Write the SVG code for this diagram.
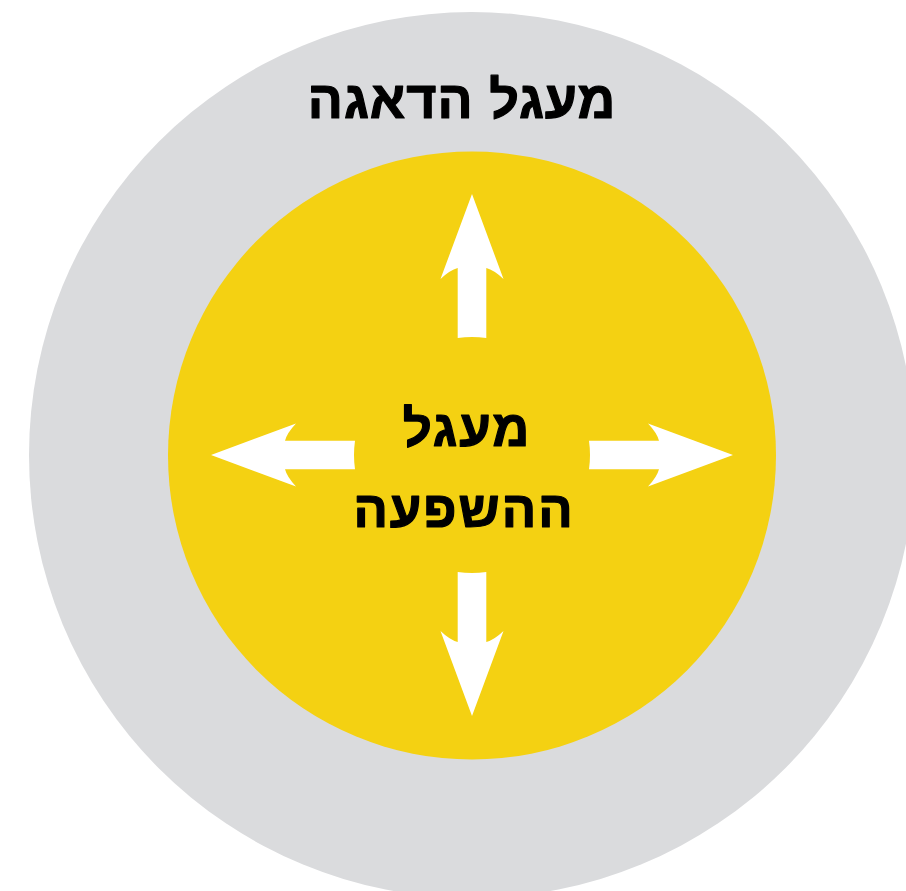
<svg xmlns="http://www.w3.org/2000/svg" width="906" height="891" viewBox="0 0 906 891">
  <style>
    .label { font-family: "Liberation Sans", "DejaVu Sans", sans-serif; font-weight: bold; fill: #000; stroke: #000; stroke-width: 1.2; stroke-linejoin: round; text-anchor: middle; direction: rtl; }
    .arrow { fill: #ffffff; }
  </style>
  <defs>
    <!-- Upward arrow centred on the origin; rotated copies give the other directions -->
    <path id="arrowUp" d="M0,-261 L31.5,-176 Q22,-185 14.3,-187 L14.3,-117 Q0,-119 -14.3,-117 L-14.3,-187 Q-22,-185 -31.5,-176 Z"/>
  </defs>
  <rect width="906" height="891" fill="#ffffff"/>

  <g id="concern-circle">
    <circle cx="472" cy="455" r="443" fill="#dadbdd"/>
    <text class="label" x="462" y="118" font-size="52" letter-spacing="1">מעגל הדאגה</text>
  </g>

  <g id="influence-circle">
    <circle cx="472" cy="455.5" r="304" fill="#f4d112"/>
    <text class="label" x="467" y="446" font-size="51" letter-spacing="2">מעגל</text>
    <text class="label" x="464" y="527" font-size="51" letter-spacing="2">ההשפעה</text>
  </g>

  <g id="arrows" class="arrow">
    <use href="#arrowUp" transform="translate(472,455)"/>
    <use href="#arrowUp" transform="translate(472,455) rotate(90)"/>
    <use href="#arrowUp" transform="translate(472,455) rotate(180)"/>
    <use href="#arrowUp" transform="translate(472,455) rotate(-90)"/>
  </g>
</svg>
